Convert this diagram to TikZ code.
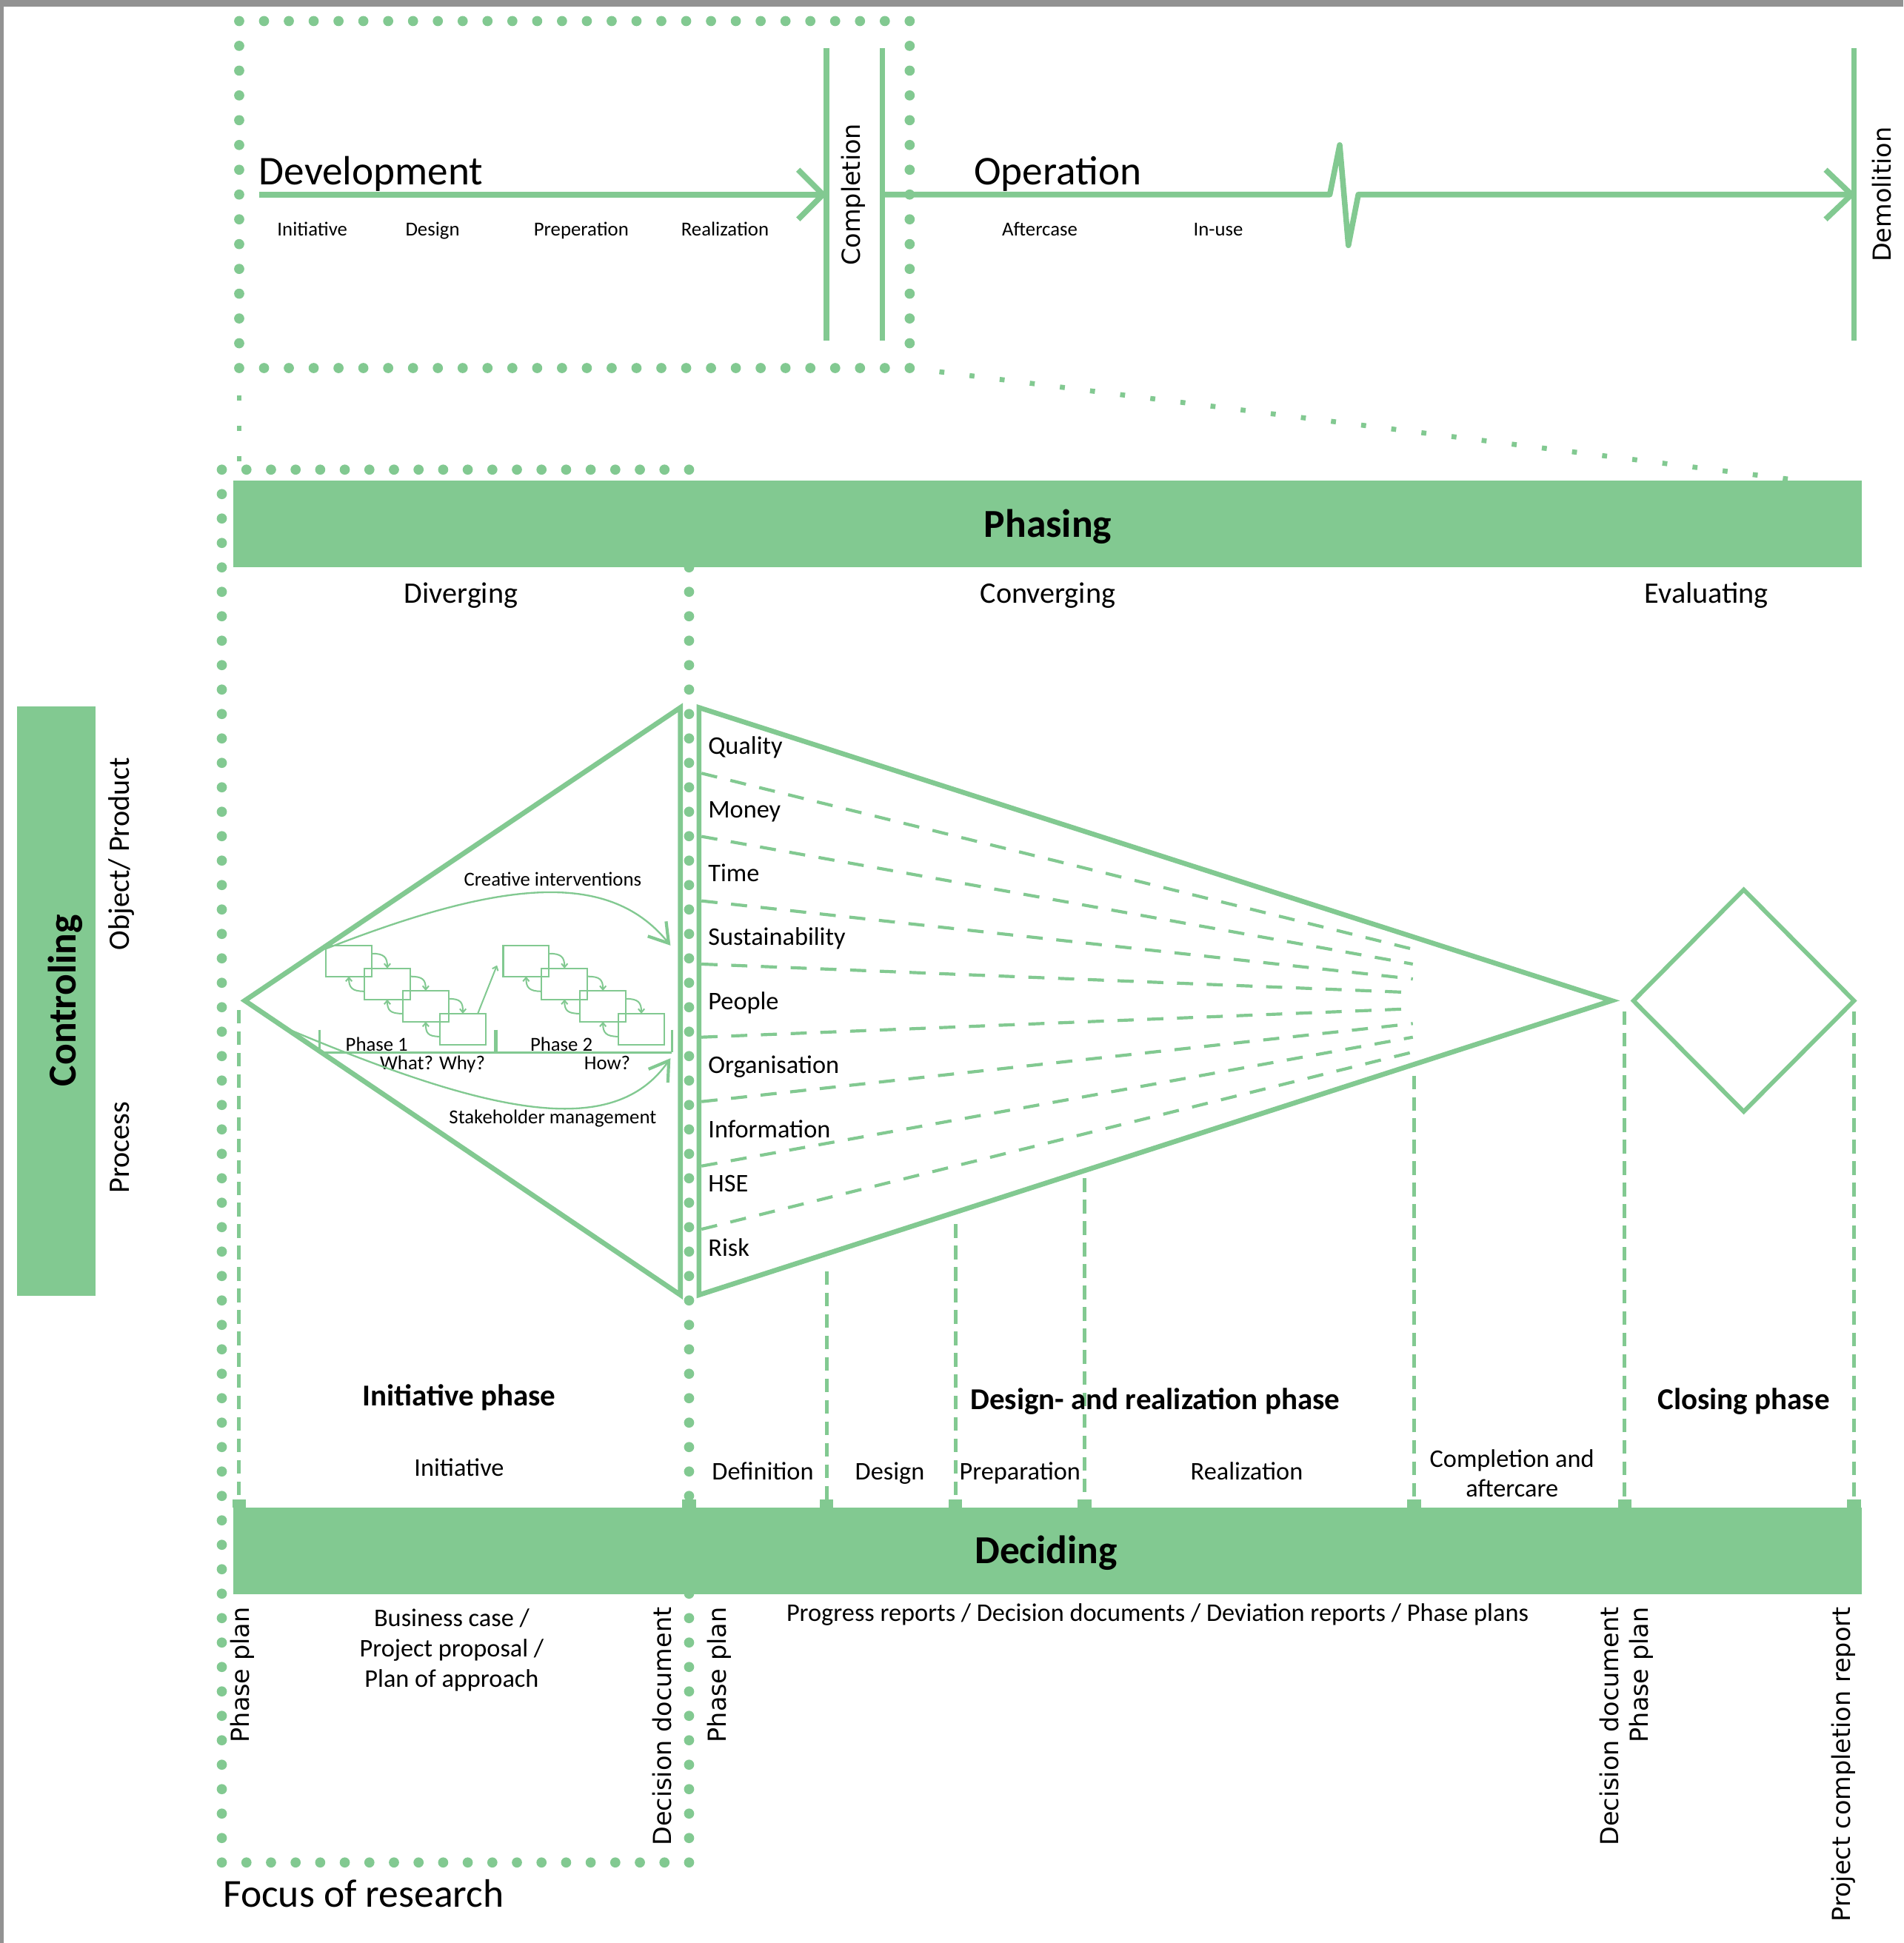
\documentclass[tikz,border=0pt]{standalone}
\usepackage{fontspec}
\setmainfont{Carlito}
\newfontfamily\vfont{DejaVu Sans}
\usetikzlibrary{arrows.meta}
\definecolor{G}{RGB}{130,201,145}
\definecolor{GR}{RGB}{146,146,146}
\newcommand\fsz[1]{\fontsize{#1}{#1}\selectfont}
\begin{document}
\begin{tikzpicture}[x=1pt,y=-1pt,
  every node/.style={inner sep=0pt,outer sep=0pt},
  gl/.style={draw=G,line width=4.5pt},
  tri/.style={draw=G,line width=4pt,line join=miter},
  dl/.style={draw=G,line width=2.5pt,dash pattern=on 13pt off 11pt},
  vdl/.style={draw=G,line width=3pt,dash pattern=on 11pt off 6.3pt},
  sdots/.style={draw=G,line width=4pt,dash pattern=on 4pt off 20.5pt},
  bar/.style={fill=G},
  sbox/.style={draw=G,line width=1.3pt,minimum width=37pt,minimum height=25pt},
  sarr/.style={draw=G,line width=1.2pt,-{Straight Barb[length=3pt,width=5pt]}},
  carr/.style={draw=G,line width=1.4pt,-{Straight Barb[length=15pt,width=19pt,line width=2.5pt]}},
  bigt/.style={font=\fsz{33}},
  bigb/.style={font=\bfseries\fsz{32}},
  phb/.style={font=\bfseries\fsz{24.5}},
  mt/.style={font=\fsz{20.5}},
  st/.style={font=\fsz{16}},
  vt/.style={font=\vfont\fsz{20},rotate=90}
]
\useasboundingbox (0,0) rectangle (1536,1568);
\fill[white] (0,0) rectangle (1536,1568);
\fill[GR] (0,0) rectangle (1536,5.4);
\fill[GR] (0,0) rectangle (3,1568);

% ---------- top section ----------
\foreach \i in {0,...,27} {
  \fill[G] ({193+\i*20.037},17) circle[radius=4.1pt];
  \fill[G] ({193+\i*20.037},297) circle[radius=4.1pt];
}
\foreach \i in {1,...,13} {
  \fill[G] (193,{17+\i*20}) circle[radius=4.1pt];
  \fill[G] (734,{17+\i*20}) circle[radius=4.1pt];
}
\draw[sdots] (193,319) -- (193,375);
\draw[sdots] (758,300) -- (1446,387);

\draw[gl] (667,39) -- (667,275);
\draw[gl] (712,39) -- (712,275);
\draw[gl] (1496,39) -- (1496,275);
\draw[gl] (209,157) -- (664,157);
\draw[gl,line join=miter] (644,137) -- (664,157) -- (644,177);
\draw[gl,line join=round] (712,157) -- (1073,157) -- (1081,117) -- (1088,198) -- (1096,157) -- (1494,157);
\draw[gl,line join=miter] (1473,137) -- (1494,157) -- (1473,177);

\node[bigt,anchor=base west] (dev) at (209,149) {Development};
\node[bigt,anchor=base west] (oper) at (786,149) {Operation};
\node[st,anchor=base] (t1) at (252,190.5) {Initiative};
\node[st,anchor=base] (t2) at (349,190.5) {Design};
\node[st,anchor=base] (t3) at (469,190.5) {Preperation};
\node[st,anchor=base] (t4) at (585,190.5) {Realization};
\node[st,anchor=base] (t5) at (839,190.5) {Aftercase};
\node[st,anchor=base] (t6) at (983,190.5) {In-use};
\node[vt,anchor=base] (compl) at (694,157) {Completion};
\node[vt,anchor=base] (demol) at (1526,157) {Demolition};

% ---------- focus of research dotted frame ----------
\foreach \i in {0,...,19} {
  \fill[G] ({179+\i*19.842},379) circle[radius=4.1pt];
  \fill[G] ({179+\i*19.842},1503) circle[radius=4.1pt];
}
\foreach \i in {1,...,56} {
  \fill[G] (179,{379+\i*19.719}) circle[radius=4.1pt];
  \fill[G] (556,{379+\i*19.719}) circle[radius=4.1pt];
}
\node[font=\fsz{32},anchor=base west] (focus) at (180,1539) {Focus of research};

% ---------- bars ----------
\fill[bar] (188,388) rectangle (1502,458);
\node[bigb,anchor=base] (phasing) at (845.5,433.5) {Phasing};
\node[font=\fsz{24},anchor=base] (div) at (372,487) {Diverging};
\node[font=\fsz{24},anchor=base] (conv) at (845.5,487) {Converging};
\node[font=\fsz{24},anchor=base] (eval) at (1377,487) {Evaluating};

\fill[bar] (14,570) rectangle (77,1046);
\node[bigb,rotate=90,anchor=base] (ctrl) at (61.5,807.5) {Controling};
\node[font=\fsz{24},rotate=90,anchor=base] (obj) at (104.5,689) {Object/ Product};
\node[font=\fsz{24},rotate=90,anchor=base] (proc) at (104.5,926) {Process};

% ---------- phase dividers ----------
\draw[vdl] (193,815) -- (193,1211);
\draw[vdl] (667,1026) -- (667,1211);
\draw[vdl] (771,988) -- (771,1211);
\draw[vdl] (875,951) -- (875,1211);
\draw[vdl] (1141,868) -- (1141,1211);
\draw[vdl] (1311,816) -- (1311,1211);
\draw[vdl] (1496,816) -- (1496,1211);
\foreach \x in {193,556,667,771,875,1141,1311,1496}
  \fill[G] ({\x-5.5},1210) rectangle ({\x+5.5},1216.5);

% ---------- diverging / converging shapes ----------
\draw[tri] (549,571) -- (197.5,807.5) -- (549,1045) -- cycle;
\draw[tri] (564,571) -- (1300.5,807.5) -- (564,1045) -- cycle;
\draw[draw=G,line width=3.5pt,line join=miter] (1318,807.6) -- (1407,718) -- (1496,807.6) -- (1407,897) -- cycle;

\draw[dl] (566,624) -- (1140,766);
\draw[dl] (566,675) -- (1140,778);
\draw[dl] (566,727) -- (1140,790);
\draw[dl] (566,778) -- (1140,801);
\draw[dl] (566,837) -- (1140,814);
\draw[dl] (566,889) -- (1140,826);
\draw[dl] (566,941) -- (1140,837);
\draw[dl] (566,992) -- (1140,849);

\node[mt,anchor=base west] (q1) at (571.5,608.5) {Quality};
\node[mt,anchor=base west] (q2) at (571.5,660) {Money};
\node[mt,anchor=base west] (q3) at (571.5,711.5) {Time};
\node[mt,anchor=base west] (q4) at (571.5,763) {Sustainability};
\node[mt,anchor=base west] (q5) at (571.5,814.5) {People};
\node[mt,anchor=base west] (q6) at (571.5,866) {Organisation};
\node[mt,anchor=base west] (q7) at (571.5,918) {Information};
\node[mt,anchor=base west] (q8) at (571.5,962) {HSE};
\node[mt,anchor=base west] (q9) at (571.5,1014) {Risk};

% ---------- small process diagram ----------
\node[sbox] (p1a) at (281.5,775.5) {};
\node[sbox] (p1b) at (312.5,794) {};
\node[sbox] (p1c) at (343.5,812) {};
\node[sbox] (p1d) at (373.5,830.5) {};
\node[sbox] (p2a) at (424.5,775.5) {};
\node[sbox] (p2b) at (455.5,794) {};
\node[sbox] (p2c) at (486.5,812) {};
\node[sbox] (p2d) at (517.5,830.5) {};
\foreach \a/\b in {p1a/p1b,p1b/p1c,p1c/p1d,p2a/p2b,p2b/p2c,p2c/p2d} {
  \draw[sarr] ([yshift=6pt]\a.east) .. controls +(10,0) and +(0,-9) .. (\b.north);
  \draw[sarr] ([yshift=-6pt]\b.west) .. controls +(-10,0) and +(0,9) .. (\a.south);
}
\draw[sarr] ([xshift=12pt]p1d.north) -- ([xshift=-5pt,yshift=-3.5pt]p2a.west);

\coordinate (bl) at (258,849.3);
\coordinate (br) at (542,849.3);
\draw[draw=G,line width=2pt] (bl) -- (br);
\draw[draw=G,line width=1.8pt] (258,831) -- (bl);
\draw[draw=G,line width=2.8pt] (400,831) -- (400,849.3);
\draw[draw=G,line width=1.8pt] (542,831) -- (br);

\node[st,anchor=base] (ph1) at (304,848) {Phase 1};
\node[st,anchor=base] (ph2) at (453,848) {Phase 2};
\node[st,anchor=base] (ww) at (349,863) {What? Why?};
\node[st,anchor=base] (how) at (490,863) {How?};

\coordinate (ci0) at (262,766);
\coordinate (ci1) at (541,763);
\draw[carr] (ci0) .. controls (400,712) and (490,700) .. (ci1);
\node[st,anchor=base] (cilab) at (446,715) {Creative interventions};
\coordinate (sm0) at (236,832);
\coordinate (sm1) at (541,854);
\draw[carr] (sm0) .. controls (396,899) and (495,920) .. (sm1);
\node[st,anchor=base] (smlab) at (446,907) {Stakeholder management};

% ---------- phase labels ----------
\node[phb,anchor=base] (ip) at (370.5,1134.6) {Initiative phase};
\node[phb,anchor=base] (drp) at (932,1137.5) {Design- and realization phase};
\node[phb,anchor=base] (cp) at (1407,1137.5) {Closing phase};
\node[mt,anchor=base] (s1) at (370.5,1191) {Initiative};
\node[mt,anchor=base] (s2) at (615.5,1194.3) {Definition};
\node[mt,anchor=base] (s3) at (718,1194.3) {Design};
\node[mt,anchor=base] (s4) at (823,1194.3) {Preparation};
\node[mt,anchor=base] (s5) at (1006,1194.3) {Realization};
\node[mt,anchor=base] (s6) at (1220,1183.8) {Completion and};
\node[mt,anchor=base] (s7) at (1220,1207.7) {aftercare};

\fill[bar] (188,1216.5) rectangle (1502,1286.5);
\node[bigb,anchor=base] (deciding) at (844,1261.5) {Deciding};

% ---------- documents ----------
\node[vt,anchor=base east] (d1) at (201,1297) {Phase plan};
\node[mt,anchor=base] (b1) at (364.5,1312.4) {Business case /};
\node[mt,anchor=base] (b2) at (364.5,1336.8) {Project proposal /};
\node[mt,anchor=base] (b3) at (364.5,1361.4) {Plan of approach};
\node[vt,anchor=base east] (d2) at (541.5,1297) {Decision document};
\node[vt,anchor=base east] (d3) at (586,1297) {Phase plan};
\node[mt,anchor=base] (prog) at (934,1308.5) {Progress reports / Decision documents / Deviation reports / Phase plans};
\node[vt,anchor=base east] (d4) at (1306,1297) {Decision document};
\node[vt,anchor=base east] (d5) at (1330,1297) {Phase plan};
\node[vt,anchor=base east] (d6) at (1493,1297) {Project completion report};
\end{tikzpicture}
\end{document}
